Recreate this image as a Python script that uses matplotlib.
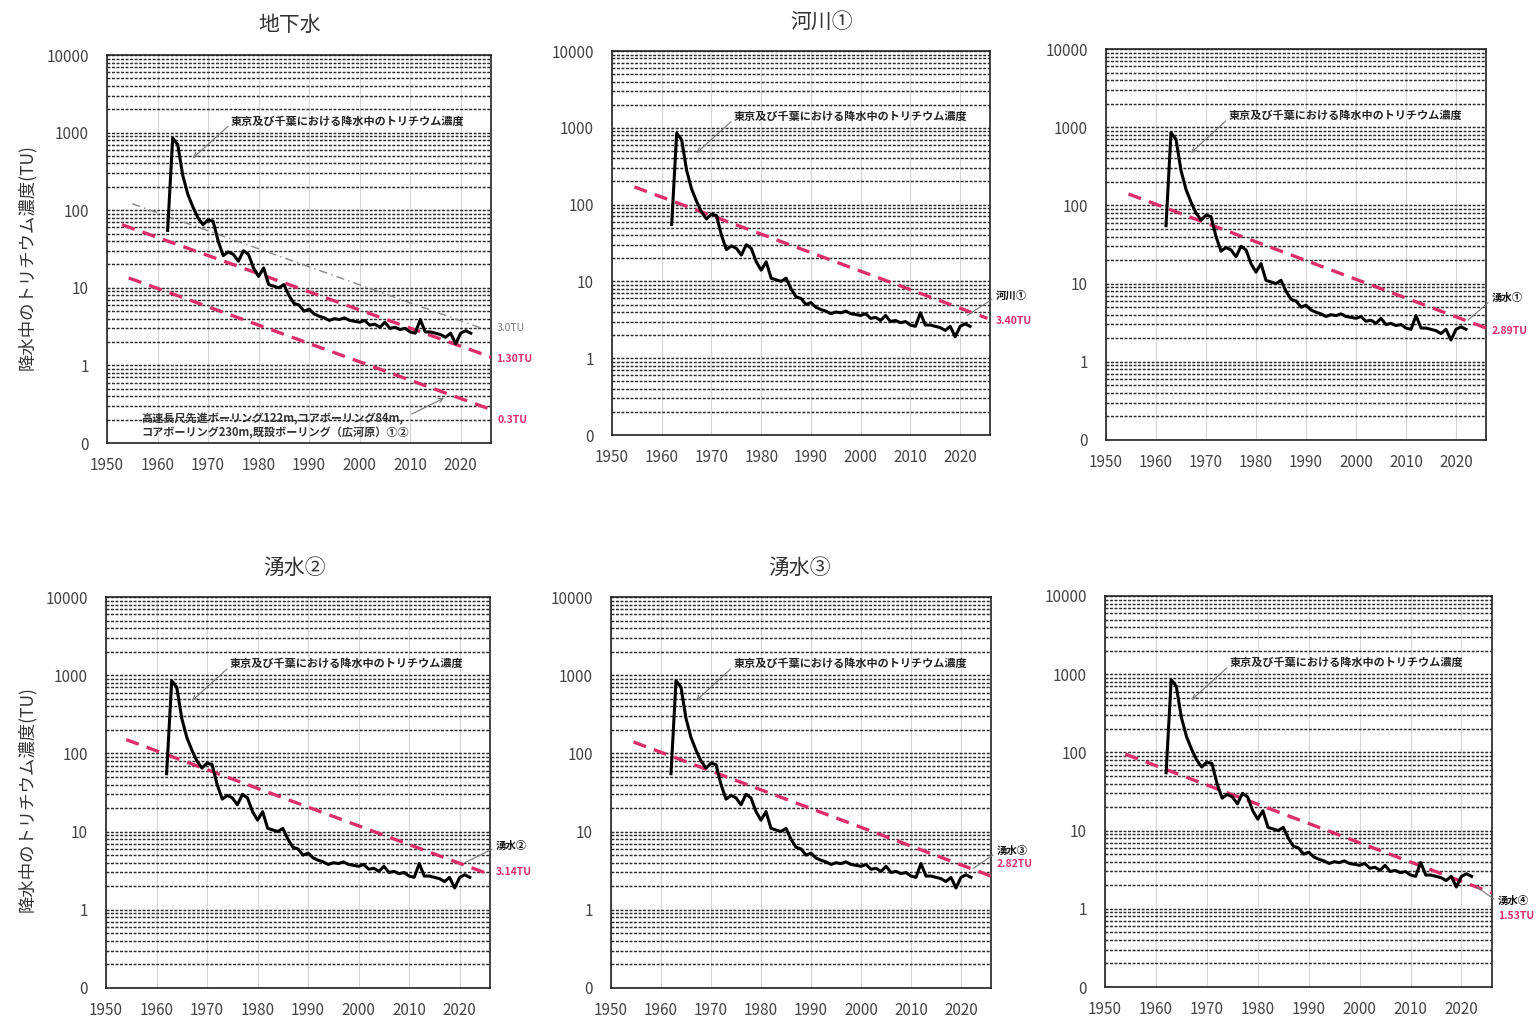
import numpy as np
import matplotlib
matplotlib.use("Agg")
from matplotlib import pyplot as plt
from matplotlib.ticker import LogLocator, FixedLocator, NullFormatter

plt.rcParams['font.family'] = ['Noto Sans CJK JP', 'DejaVu Sans']

# tritium in precipitation, Tokyo / Chiba (TU)
years = list(range(1962, 2023))
tritium = [55, 850, 700, 280, 160, 110, 80, 65, 75, 72,
           40, 26, 29, 27, 22, 30, 27, 18, 14, 18,
           11, 10.5, 10, 11, 8, 6.3, 6.0, 5.0, 5.3, 4.6,
           4.3, 4.1, 3.8, 4.0, 3.9, 4.1, 3.8, 3.7, 3.6, 3.8,
           3.3, 3.4, 3.1, 3.6, 3.0, 3.1, 2.9, 3.0, 2.7, 2.6,
           3.9, 2.7, 2.7, 2.6, 2.5, 2.3, 2.6, 1.9, 2.6, 2.8,
           2.6]

titles = ['地下水', '河川①', '', '湧水②', '湧水③', '']
site_labels = ['', '河川①', '湧水①', '湧水②', '湧水③', '湧水④']
decay_labels = ['1.30TU', '3.40TU', '2.89TU', '3.14TU', '2.82TU', '1.53TU']
decay_x = [[1953, 2026], [1954.5, 2025.5], [1954.5, 2026],
           [1954, 2025.5], [1954.5, 2026], [1954, 2026]]
decay_y = [[65, 1.28], [170, 3.3], [140, 2.7],
           [150, 2.9], [140, 2.7], [95, 1.6]]
# where the site / TU labels sit and where their arrows point
site_label_y = [None, 6.5, 6.5, 6.5, 5.6, 1.26]
tu_label_y = [1.2, 3.05, 2.5, 3.0, 3.9, 0.8]
arrow_tip = [None, (2021.4, 3.6), (2022.4, 3.4), (2021, 4.0), (2022.5, 3.4), (2023, 1.9)]

# extra lines of the groundwater panel
gw_gray_x, gw_gray_y = [1955, 2025.5], [121, 2.8]
gw_low_x, gw_low_y = [1954.3, 2026], [13.4, 0.27]

ytick_vals = [0.1, 1, 10, 100, 1000, 10000]
ytick_text = ['0', '1', '10', '100', '1000', '10000']
xtick_vals = list(range(1950, 2021, 10))

note_main = '東京及び千葉における降水中のトリチウム濃度'
note_gw = '高速長尺先進ボーリング122m,コアボーリング84m,\nコアボーリング230m,既設ボーリング（広河原）①②'

W, H = 1540, 1032
boxes = [(107, 55, 491, 443), (612, 51, 990, 435), (1106, 49, 1486, 440),
         (106, 597, 490, 988), (611, 597, 991, 988), (1105, 596, 1492, 987)]

red = '#dc2e6b'
fig = plt.figure(figsize=(W / 100, H / 100), dpi=100)

for i, (l, t, r, b) in enumerate(boxes):
    ax = fig.add_axes([l / W, 1 - b / H, (r - l) / W, (b - t) / H])
    ax.set_yscale('log')
    ax.set_ylim(0.1, 10000)
    ax.set_xlim(1950, 2026)

    ax.yaxis.set_major_locator(FixedLocator(ytick_vals))
    ax.set_yticklabels(ytick_text)
    ax.yaxis.set_minor_locator(LogLocator(base=10, subs=np.arange(2, 10), numticks=20))
    ax.yaxis.set_minor_formatter(NullFormatter())
    ax.set_xticks(xtick_vals)
    ax.tick_params(axis='both', which='both', length=0, labelsize=11, colors='#444')
    ax.tick_params(axis='y', pad=13)
    ax.tick_params(axis='x', pad=10)

    ax.grid(axis='y', which='both', color='#2a2a2a', lw=1.05, ls=(0, (2.0, 1.1)))
    ax.grid(axis='x', which='major', color='#d5d5d5', lw=0.8, ls='-')
    ax.set_axisbelow(True)
    for s in ax.spines.values():
        s.set_color('#222')
        s.set_linewidth(1.2)

    ax.plot(years, tritium, color='black', lw=2.2, zorder=4)
    ax.plot(decay_x[i], decay_y[i], color=red, lw=2.4, ls=(0, (4, 2.5)), zorder=3)

    ax.annotate(note_main, xy=(1967, 470), xytext=(1974.5, 1400),
                fontsize=8, fontweight='bold', color='#222', va='center', ha='left',
                arrowprops=dict(arrowstyle='->', color='#777', lw=0.8,
                                shrinkA=0, shrinkB=0, relpos=(0, 0.3)))

    if i == 0:
        ax.plot(gw_gray_x, gw_gray_y, color='#888', lw=1.0, ls=(0, (6, 3, 1, 3)), zorder=3)
        ax.plot(gw_low_x, gw_low_y, color=red, lw=2.4, ls=(0, (4, 2.5)), zorder=3)
        ax.annotate(note_gw, xy=(2016.7, 0.38), xytext=(1956.8, 0.165),
                    fontsize=8, fontweight='bold', color='#333', va='center', ha='left',
                    linespacing=1.1,
                    arrowprops=dict(arrowstyle='->', color='#777', lw=0.8,
                                    shrinkA=0, shrinkB=0, relpos=(0.97, 0.75)))
        ax.text(2027.2, 3.0, '3.0TU', fontsize=7.5, color='#777', va='center',
                ha='left', clip_on=False)
        ax.text(2027.0, tu_label_y[i], decay_labels[i], fontsize=7.5, color=red,
                fontweight='bold', va='center', ha='left', clip_on=False)
        ax.text(2027.2, 0.2, '0.3TU', fontsize=7.5, color=red, fontweight='bold',
                va='center', ha='left', clip_on=False)
        fig.text(27 / W, 1 - 257 / H, '降水中のトリチウム濃度(TU)', rotation=90,
                 fontsize=12.5, color='#333', ha='center', va='center')
    else:
        ax.annotate(site_labels[i], xy=arrow_tip[i], xytext=(2027.2, site_label_y[i]),
                    fontsize=7.5, fontweight='bold', color='#111', va='center', ha='left',
                    annotation_clip=False,
                    arrowprops=dict(arrowstyle='-', color='#777', lw=0.8,
                                    shrinkA=1, shrinkB=0, relpos=(0, 0.4)))
        ax.text(2027.2, tu_label_y[i], decay_labels[i], fontsize=7.5, color=red,
                fontweight='bold', va='center', ha='left', clip_on=False)

    if i == 3:
        fig.text(27 / W, 1 - 799 / H, '降水中のトリチウム濃度(TU)', rotation=90,
                 fontsize=12.5, color='#333', ha='center', va='center')

title_pos = [(290, 25), (822, 22), None, (295, 568), (800, 568), None]
for tt, pos in zip(titles, title_pos):
    if tt and pos:
        fig.text(pos[0] / W, 1 - pos[1] / H, tt, fontsize=15, color='#333',
                 ha='center', va='center')

fig.savefig('out.png', dpi=100, facecolor='white')
